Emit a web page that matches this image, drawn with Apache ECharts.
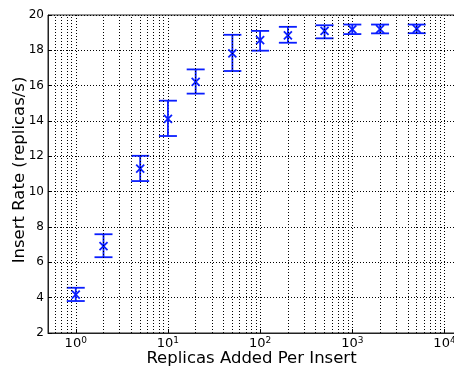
<!DOCTYPE html>
<html>
<head>
<meta charset="utf-8">
<script src="https://cdn.jsdelivr.net/npm/echarts@6/dist/echarts.min.js"></script>
<style>
  html, body { margin: 0; padding: 0; background: #fff; }
  #chart { width: 454px; height: 367px; }
</style>
</head>
<body>
<div id="chart"></div>
<script>
// 每次插入的副本数
const replicas = [1, 2, 5, 10, 20, 50, 100, 200, 500, 1000, 2000, 5000];
// 插入速率均值与误差上下界
const rateMean = [4.17, 6.92, 11.3, 14.12, 16.22, 17.83, 18.58, 18.85, 19.1, 19.18, 19.2, 19.22];
const rateLow  = [3.81, 6.29, 10.6, 13.15, 15.55, 16.83, 17.98, 18.43, 18.68, 18.92, 18.96, 18.97];
const rateHigh = [4.56, 7.59, 12.03, 15.15, 16.92, 18.88, 19.1, 19.33, 19.42, 19.46, 19.46, 19.46];
// 次网格线（每个数量级的 2..9）
const minorX = [0.6, 0.7, 0.8, 0.9];
[1, 10, 100, 1000].forEach(d => {
  for (let k = 2; k <= 9; k++) minorX.push(k * d);
});

const chart = echarts.init(document.getElementById('chart'));
const blue = '#0a1eff';
const font = 'DejaVu Sans';
const dotted = { color: '#000', width: 1, type: [1, 2] };

const option = {
  animation: false,
  grid: {
    left: 48, right: -1, top: 15, bottom: 34,
    outerBoundsMode: 'none',
    containLabel: false,
    show: true, borderColor: '#222', borderWidth: 1, backgroundColor: 'transparent'
  },
  xAxis: {
    type: 'log',
    logBase: 10,
    min: 0.5,
    max: 13000,
    name: 'Replicas Added Per Insert',
    nameLocation: 'middle',
    nameGap: 17,
    nameMoveOverlap: false,
    nameTextStyle: { fontFamily: font, fontSize: 16.5, color: '#000' },
    axisLine: { show: true, lineStyle: { color: '#222', width: 1 } },
    axisTick: { show: true, inside: true, length: 4, lineStyle: { color: '#000' } },
    splitLine: { show: true, lineStyle: dotted },
    axisLabel: {
      showMinLabel: false,
      showMaxLabel: false,
      hideOverlap: false,
      margin: 3,
      formatter: v => {
        const e = Math.round(Math.log10(v));
        if (Math.abs(Math.log10(v) - e) > 1e-6) return '';
        return '{b|10}{s|' + e + '}';
      },
      rich: {
        b: { fontFamily: font, fontSize: 13, color: '#000', lineHeight: 16 },
        s: { fontFamily: font, fontSize: 9, color: '#000', verticalAlign: 'top', lineHeight: 9 }
      }
    }
  },
  yAxis: {
    type: 'value',
    min: 2,
    max: 20,
    interval: 2,
    name: 'Insert Rate (replicas/s)',
    nameLocation: 'middle',
    nameGap: 20,
    nameMoveOverlap: false,
    nameTextStyle: { fontFamily: font, fontSize: 16.5, color: '#000', padding: [0, 0, 0, 8] },
    axisLine: { show: true, lineStyle: { color: '#222', width: 1 } },
    axisTick: { show: true, inside: true, length: 4, lineStyle: { color: '#000' } },
    splitLine: { show: true, lineStyle: dotted },
    axisLabel: { fontFamily: font, fontSize: 12, color: '#000', margin: 4 }
  },
  series: [
    {
      type: 'scatter',
      data: [],
      silent: true,
      markLine: {
        silent: true,
        symbol: 'none',
        animation: false,
        label: { show: false },
        lineStyle: dotted,
        data: minorX.map(v => ({ xAxis: v }))
      }
    },
    {
      type: 'custom',
      encode: { x: 0, y: [1, 2, 3] },
      data: replicas.map((r, i) => [r, rateLow[i], rateHigh[i], rateMean[i]]),
      renderItem: (params, api) => {
        const x = api.value(0);
        const lo = api.coord([x, api.value(1)]);
        const hi = api.coord([x, api.value(2)]);
        const c = api.coord([x, api.value(3)]);
        const cap = 9, m = 4;
        const st = { stroke: blue, lineWidth: 1.8 };
        return {
          type: 'group',
          children: [
            { type: 'line', shape: { x1: lo[0], y1: lo[1], x2: hi[0], y2: hi[1] }, style: st },
            { type: 'line', shape: { x1: hi[0] - cap, y1: hi[1], x2: hi[0] + cap, y2: hi[1] }, style: st },
            { type: 'line', shape: { x1: lo[0] - cap, y1: lo[1], x2: lo[0] + cap, y2: lo[1] }, style: st },
            { type: 'line', shape: { x1: c[0] - m, y1: c[1] - m, x2: c[0] + m, y2: c[1] + m }, style: st },
            { type: 'line', shape: { x1: c[0] - m, y1: c[1] + m, x2: c[0] + m, y2: c[1] - m }, style: st }
          ]
        };
      }
    }
  ]
};
chart.setOption(option);

window.addEventListener('resize', () => chart.resize());
</script>
</body>
</html>
